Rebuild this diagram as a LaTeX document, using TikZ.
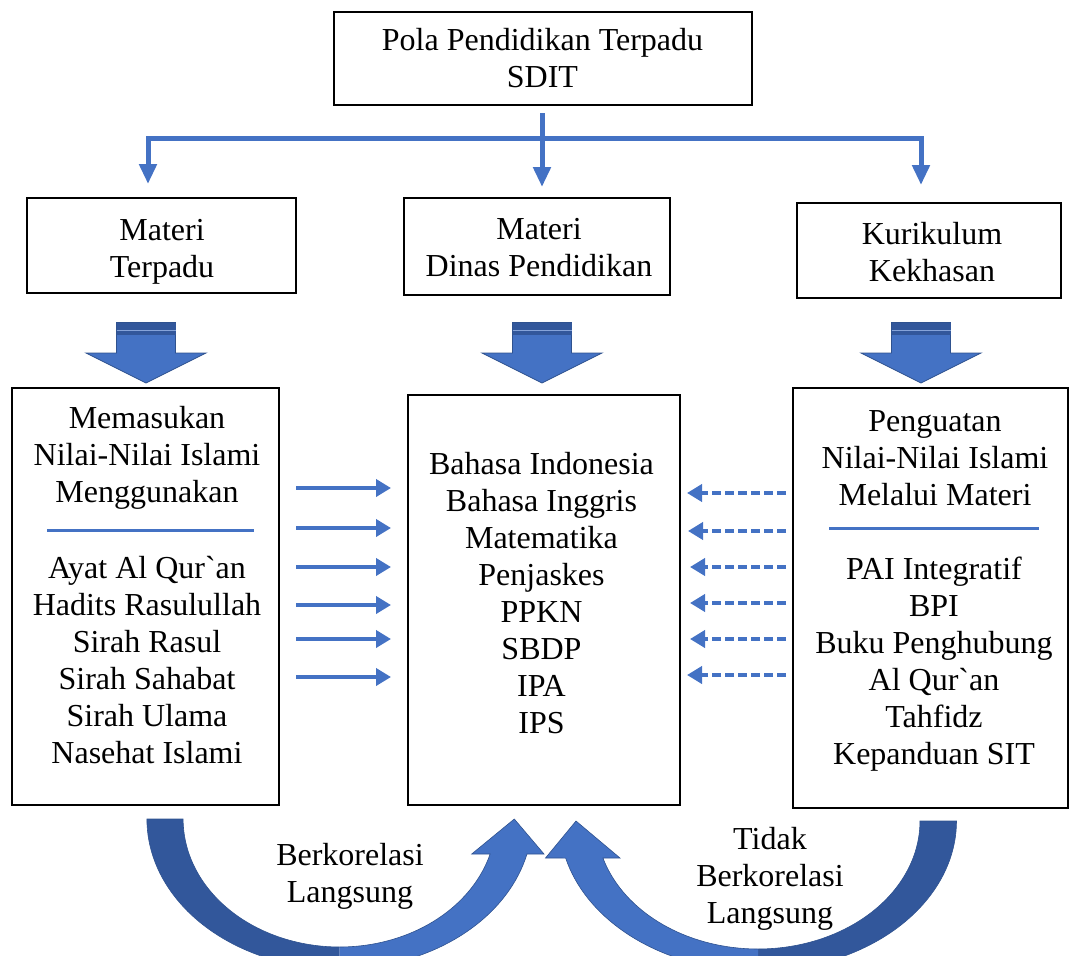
\documentclass[tikz,border=0pt]{standalone}
\usepackage{fontspec}
\setmainfont{Liberation Serif}
\usetikzlibrary{arrows.meta}
\definecolor{wblue}{HTML}{4472C4}
\definecolor{wdark}{RGB}{50,87,155}
\definecolor{wline}{HTML}{2F528F}
\begin{document}
\begin{tikzpicture}[x=1pt,y=-1pt,
  every node/.style={font=\fontsize{32}{37}\selectfont},
  box/.style={draw=black,line width=2pt,rectangle,inner sep=0pt},
  txt/.style={align=center,inner sep=0pt},
  smalltip/.style={-{Triangle[length=15pt,width=17pt]}},
  solidarr/.style={wblue,line width=4pt,smalltip},
  dasharr/.style={wblue,line width=4pt,dash pattern=on 9pt off 4pt,smalltip},
  treearr/.style={wblue,line width=5pt},
  sep/.style={wblue,line width=3pt},
  bandfill/.style={draw=wline,line width=0.6pt},
]
\useasboundingbox (0,0) rectangle (1069,956);

% ---------- curved arrows ----------
% left (Berkorelasi Langsung)
\fill[wdark] plot[domain=180:90,samples=40,variable=\t] ({339.6+192.7*cos(\t)},{819+150*sin(\t)})
  -- plot[domain=90:180,samples=40,variable=\t] ({339.6+156.5*cos(\t)},{819+128*sin(\t)}) -- cycle;
\fill[wblue] plot[domain=90:13.5,samples=40,variable=\t] ({339.6+192.7*cos(\t)},{819+150*sin(\t)})
  -- (544,854) -- (514.3,819) -- (471.7,854)
  -- plot[domain=15.87:90,samples=40,variable=\t] ({339.6+156.5*cos(\t)},{819+128*sin(\t)}) -- cycle;
\draw[bandfill] plot[domain=180:13.5,samples=80,variable=\t] ({339.6+192.7*cos(\t)},{819+150*sin(\t)})
  -- (544,854) -- (514.3,819) -- (471.7,854)
  -- plot[domain=15.87:180,samples=80,variable=\t] ({339.6+156.5*cos(\t)},{819+128*sin(\t)}) -- cycle;
% right (Tidak Berkorelasi Langsung)
\fill[wdark] plot[domain=0:90,samples=40,variable=\t] ({758+198.5*cos(\t)},{821+150*sin(\t)})
  -- plot[domain=90:0,samples=40,variable=\t] ({758+162*cos(\t)},{821+128*sin(\t)}) -- cycle;
\fill[wblue] plot[domain=90:165.7,samples=40,variable=\t] ({758+198.5*cos(\t)},{821+150*sin(\t)})
  -- (545.5,858) -- (576,821) -- (620,858)
  -- plot[domain=163.2:90,samples=40,variable=\t] ({758+162*cos(\t)},{821+128*sin(\t)}) -- cycle;
\draw[bandfill] plot[domain=0:165.7,samples=80,variable=\t] ({758+198.5*cos(\t)},{821+150*sin(\t)})
  -- (545.5,858) -- (576,821) -- (620,858)
  -- plot[domain=163.2:0,samples=80,variable=\t] ({758+162*cos(\t)},{821+128*sin(\t)}) -- cycle;

% ---------- top box ----------
\node[box,minimum width=418pt,minimum height=93pt] (top) at (543,58.5) {};
\node[txt] (toptxt) at (542.5,58.5) {Pola Pendidikan Terpadu\\SDIT};

% ---------- second row ----------
\node[box,minimum width=269pt,minimum height=95pt] (mt) at (161.5,245.5) {};
\node[txt] (mttxt) at (162,252) {Materi\\Terpadu};
\node[box,minimum width=266pt,minimum height=97pt] (md) at (537,246.5) {};
\node[txt] (mdtxt) at (539,248) {Materi\\Dinas Pendidikan};
\node[box,minimum width=264pt,minimum height=95pt] (kk) at (929,250.5) {};
\node[txt] (kktxt) at (932,252.5) {Kurikulum\\Kekhasan};

% ---------- tree connectors ----------
\coordinate (stemtop) at (542,113);
\coordinate (stemtip) at (542,187);
\coordinate (barL) at (148,138);
\coordinate (barR) at (921,138);
\coordinate (tipL) at (148,184);
\coordinate (tipR) at (921,185);
\draw[treearr,{Triangle[length=20pt,width=17pt]}-{Triangle[length=20pt,width=17pt]}] (tipL) -- (barL) -- (barR) -- (tipR);
\draw[treearr,-{Triangle[length=20pt,width=17pt]}] (stemtop) -- (stemtip);

% ---------- block arrows ----------
\foreach \c in {146,542,921}{
  \fill[wblue,draw=wline,line width=0.8pt] ({\c-29.5},322.5) -- ({\c+29.5},322.5) -- ({\c+29.5},353)
    -- ({\c+60},353) -- (\c,383) -- ({\c-60},353) -- ({\c-29.5},353) -- cycle;
  \fill[wdark] ({\c-29.5},322.5) rectangle ({\c+29.5},335);
  \draw[white!35!wblue,line width=1pt] ({\c-29.5},330) -- ({\c+29.5},330);
}

% ---------- big boxes ----------
\node[box,minimum width=267pt,minimum height=417pt] (lb) at (145.5,596.5) {};
\node[txt] (lbtop) at (147,457.5) {Memasukan\\Nilai-Nilai Islami\\Menggunakan};
\node[txt] (lbbot) at (147,660) {Ayat Al Qur\textasciigrave an\\Hadits Rasulullah\\Sirah Rasul\\Sirah Sahabat\\Sirah Ulama\\Nasehat Islami};
\coordinate (lsepL) at (47,530);
\coordinate (lsepR) at (254,530);
\draw[sep] (lsepL) -- (lsepR);

\node[box,minimum width=272pt,minimum height=410pt] (mb) at (544,600) {};
\node[txt] (mbtxt) at (541.5,593) {Bahasa Indonesia\\Bahasa Inggris\\Matematika\\Penjaskes\\PPKN\\SBDP\\IPA\\IPS};

\node[box,minimum width=275pt,minimum height=420pt] (rb) at (930,598) {};
\node[txt] (rbtop) at (935,458) {Penguatan\\Nilai-Nilai Islami\\Melalui Materi};
\node[txt] (rbbot) at (934,664.5) {PAI Integratif\\BPI\\Buku Penghubung\\Al Qur\textasciigrave an\\Tahfidz\\Kepanduan SIT};
\coordinate (rsepL) at (829,528);
\coordinate (rsepR) at (1039,528);
\draw[sep] (rsepL) -- (rsepR);

% ---------- horizontal arrows ----------
\foreach \i/\y in {1/488,2/528,3/567,4/605,5/639,6/677}{
  \coordinate (sa\i) at (296,\y);
  \coordinate (sb\i) at (391,\y);
  \draw[solidarr] (sa\i) -- (sb\i);
}
\foreach \i/\y/\x in {1/493/687,2/531/688,3/567/690,4/603/690,5/639/690,6/675/687}{
  \coordinate (da\i) at (786,\y);
  \coordinate (db\i) at (\x,\y);
  \draw[dasharr] (da\i) -- (db\i);
}

% ---------- labels ----------
\node[txt] (lbl1) at (350,876.5) {Berkorelasi\\Langsung};
\node[txt] (lbl2) at (770,878.5) {Tidak\\Berkorelasi\\Langsung};
\end{tikzpicture}
\end{document}
